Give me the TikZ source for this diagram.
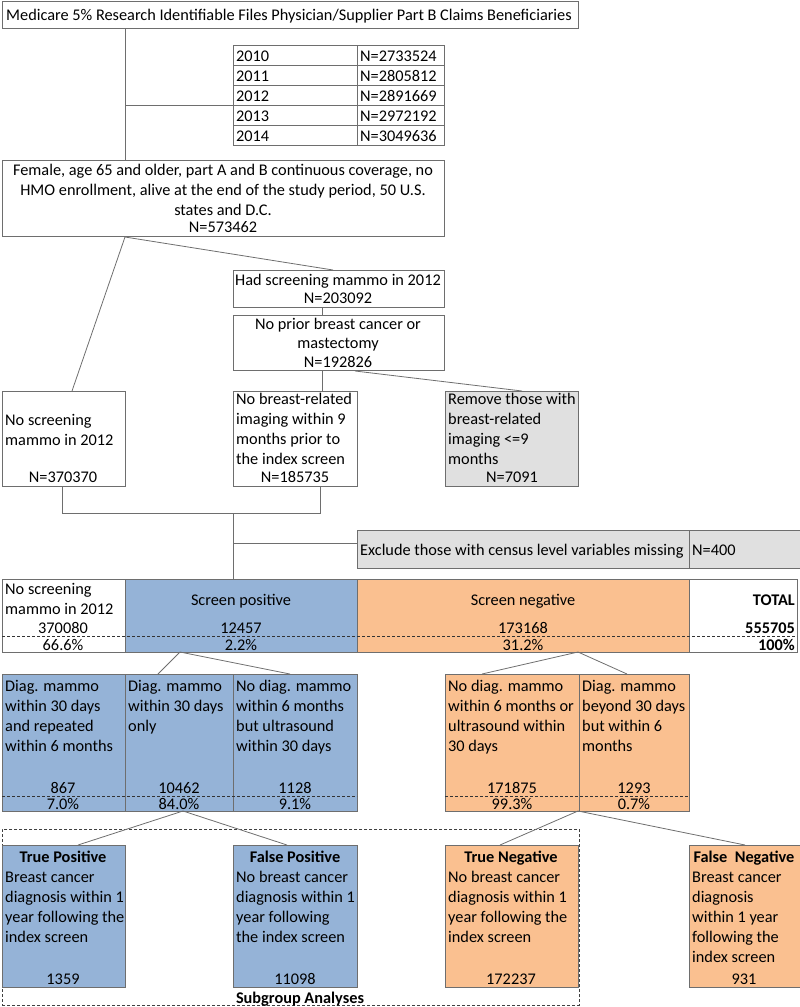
\documentclass[tikz,border=0pt]{standalone}
\usepackage{fontspec}
\setmainfont{Carlito}
\definecolor{bl}{HTML}{95B3D7}
\definecolor{og}{HTML}{FAC090}
\definecolor{gr}{HTML}{E0E0E0}
\definecolor{ln}{HTML}{6E6E6E}
\newcommand{\fs}{\fontsize{16.3}{20}\selectfont}
\newcommand{\cellbox}[6]{\node[cell,#6,minimum width={#4-#2}, minimum height={#5-#3}] (#1) at (#2,#3) {};}
\begin{document}
\begin{tikzpicture}[x=1pt,y=-1pt,
  cell/.style={draw=ln, line width=0.8pt, inner sep=0, outer sep=0, anchor=north west},
  conn/.style={draw=ln, line width=0.8pt},
  dl/.style={draw=black!80, line width=0.8pt, dash pattern=on 3pt off 2pt},
  txt/.style={inner sep=0, font=\fs, align=left, anchor=north west},
  ctx/.style={inner sep=0, font=\fs, align=center, anchor=north},
  one/.style={inner sep=0, font=\fs, anchor=base},
  onew/.style={inner sep=0, font=\fs, anchor=base west},
  onee/.style={inner sep=0, font=\fs\bfseries, anchor=base east},
  blue/.style={fill=bl},
  orng/.style={fill=og},
  gray/.style={fill=gr},
]
\useasboundingbox (0,0) rectangle (800,1007);

% top box
\cellbox{top}{2}{1}{578}{28}{}
\node[one] (toptxt) at (289,20) {Medicare 5\% Research Identifiable Files Physician/Supplier Part B Claims Beneficiaries};

% year table
\cellbox{y10}{233}{45}{357}{65}{}  \cellbox{n10}{357}{45}{444}{65}{}
\cellbox{y11}{233}{65}{357}{85}{}  \cellbox{n11}{357}{65}{444}{85}{}
\cellbox{y12}{233}{85}{357}{105}{} \cellbox{n12}{357}{85}{444}{105}{}
\cellbox{y13}{233}{105}{357}{125}{} \cellbox{n13}{357}{105}{444}{125}{}
\cellbox{y14}{233}{125}{357}{145}{} \cellbox{n14}{357}{125}{444}{145}{}
\node[onew] (ty10) at (236,61) {2010}; \node[onew] (tn10) at (360,61) {N=2733524};
\node[onew] (ty11) at (236,81) {2011}; \node[onew] (tn11) at (360,81) {N=2805812};
\node[onew] (ty12) at (236,101) {2012}; \node[onew] (tn12) at (360,101) {N=2891669};
\node[onew] (ty13) at (236,121) {2013}; \node[onew] (tn13) at (360,121) {N=2972192};
\node[onew] (ty14) at (236,141) {2014}; \node[onew] (tn14) at (360,141) {N=3049636};

% female box
\cellbox{fem}{2}{160}{444}{236}{}
\node[ctx] (femtxt) at (223,161) {\strut Female, age 65 and older, part A and B continuous coverage, no\\HMO enrollment, alive at the end of the study period, 50 U.S.\\states and D.C.\\[-3pt]N=573462};

\coordinate (j1) at (125,28);
\coordinate (j2) at (125,105);
\draw[conn] (top.south -| j1) -- (fem.north -| j1);
\draw[conn] (j2) -- (y13.north west);

% had / prior
\cellbox{had}{233}{270}{444}{307}{}
\node[ctx] (hadtxt) at (338,271) {\strut Had screening mammo in 2012\\[-2pt]N=203092};
\cellbox{pri}{233}{315}{444}{370}{}
\node[ctx] (pritxt) at (338,315) {\strut No prior breast cancer or\\[-1pt]mastectomy\\[-1pt]N=192826};

% middle boxes
\cellbox{nos}{2}{391}{125}{486}{}
\node[txt] (nostxt) at (5,411) {\strut No screening\\mammo in 2012};
\node[one] (nosn) at (63,482) {N=370370};
\cellbox{nbr}{233}{391}{357}{486}{}
\node[txt] (nbrtxt) at (236,390) {\strut No breast-related\\imaging within 9\\months prior to\\the index screen};
\node[one] (nbrn) at (295,482) {N=185735};
\cellbox{rem}{445}{391}{578}{486}{gray}
\node[txt] (remtxt) at (448,390) {\strut Remove those with\\breast-related\\imaging <=9\\months};
\node[one] (remn) at (512,482) {N=7091};

\coordinate (fj) at (125,237);
\coordinate (nosT) at (72,391);
\coordinate (hadT) at (333,270);
\coordinate (vj) at (322,0);
\coordinate (priB) at (355,371);
\coordinate (remT) at (522,391);
\draw[conn] (fj) -- (nosT);
\draw[conn] (fj) -- (hadT);
\draw[conn] (had.south -| vj) -- (pri.north -| vj);
\draw[conn] (pri.south -| vj) -- (nbr.north -| vj);
\draw[conn] (priB) -- (remT);

% merge
\coordinate (m1) at (62,513);
\coordinate (m2) at (320,513);
\coordinate (m3) at (233,513);
\coordinate (m4) at (233,543);
\draw[conn] (nos.south -| m1) -- (m1) -- (m2) -- (nbr.south -| m2);

% exclude
\cellbox{exc}{357}{530}{689}{568}{gray}
\cellbox{excn}{689}{530}{800}{568}{gray}
\node[onew] (exctxt) at (360,555) {Exclude those with census level variables missing};
\node[onew] (excntxt) at (692,555) {N=400};
\draw[conn] (m4) -- (exc.west |- m4);

% summary row
\cellbox{r0}{2}{579}{125}{652}{}
\cellbox{r1}{125}{579}{357}{652}{blue}
\cellbox{r2}{357}{579}{689}{652}{orng}
\cellbox{r3}{689}{579}{797}{652}{}
\draw[conn] (m3) -- (r1.north -| m3);
\coordinate (d1) at (2,636);
\coordinate (d2) at (797,636);
\draw[dl] (d1) -- (d2);
\node[txt] (r0txt) at (5,580) {\strut No screening\\mammo in 2012};
\node[one] (r0n) at (63,633) {370080};
\node[one] (r0p) at (63,650) {66.6\%};
\node[one] (r1t) at (241,605) {Screen positive};
\node[one] (r1n) at (241,633) {12457};
\node[one] (r1p) at (241,650) {2.2\%};
\node[one] (r2t) at (523,605) {Screen negative};
\node[one] (r2n) at (523,633) {173168};
\node[one] (r2p) at (523,650) {31.2\%};
\node[onee] (r3t) at (795,605) {TOTAL};
\node[onee] (r3n) at (795,633) {555705};
\node[onee] (r3p) at (795,650) {100\%};

% blue sub-table
\cellbox{b1}{2}{674}{125}{811}{blue}
\cellbox{b2}{125}{674}{233}{811}{blue}
\cellbox{b3}{233}{674}{357}{811}{blue}
\coordinate (bd1) at (2,796);
\coordinate (bd2) at (357,796);
\draw[dl] (bd1) -- (bd2);
\node[txt] (b1t) at (5,677) {\strut Diag. mammo\\within 30 days\\and repeated\\within 6 months};
\node[txt] (b2t) at (128,677) {\strut Diag. mammo\\within 30 days\\only};
\node[txt] (b3t) at (236,677) {\strut No diag. mammo\\within 6 months\\but ultrasound\\within 30 days};
\node[one] (b1n) at (63,793) {867};
\node[one] (b2n) at (179,793) {10462};
\node[one] (b3n) at (295,793) {1128};
\node[one] (b1p) at (63,809) {7.0\%};
\node[one] (b2p) at (179,809) {84.0\%};
\node[one] (b3p) at (295,809) {9.1\%};

% orange sub-table
\cellbox{o1}{445}{674}{579}{811}{orng}
\cellbox{o2}{579}{674}{689}{811}{orng}
\coordinate (od1) at (445,796);
\coordinate (od2) at (689,796);
\draw[dl] (od1) -- (od2);
\node[txt] (o1t) at (448,677) {\strut No diag. mammo\\within 6 months or\\ultrasound within\\30 days};
\node[txt] (o2t) at (582,677) {\strut Diag. mammo\\beyond 30 days\\but within 6\\months};
\node[one] (o1n) at (512,793) {171875};
\node[one] (o2n) at (634,793) {1293};
\node[one] (o1p) at (512,809) {99.3\%};
\node[one] (o2p) at (634,809) {0.7\%};

% connectors row -> sub tables
\coordinate (s1) at (180,652);
\coordinate (s1a) at (158,674);
\coordinate (s1b) at (290,674);
\coordinate (s2) at (578,652);
\coordinate (s2a) at (482,674);
\coordinate (s2b) at (627,674);
\draw[conn] (s1) -- (s1a);
\draw[conn] (s1) -- (s1b);
\draw[conn] (s2) -- (s2a);
\draw[conn] (s2) -- (s2b);

% subgroup frame
\node[draw=black!75, line width=0.8pt, dash pattern=on 3pt off 2pt, inner sep=0, anchor=north west, minimum width=577, minimum height=176] (sub) at (2,829) {};
\node[inner sep=0, font=\fs\bfseries, anchor=base] (subtxt) at (300,1003) {Subgroup Analyses};

% bottom boxes
\cellbox{tp}{2}{845}{125}{987}{blue}
\cellbox{fp}{233}{845}{357}{987}{blue}
\cellbox{tn}{445}{845}{578}{987}{orng}
\cellbox{fn}{689}{845}{800}{987}{orng}
\node[inner sep=0, font=\fs\bfseries, anchor=base] (tph) at (63,862) {True Positive};
\node[txt] (tpt) at (5,868) {\strut Breast cancer\\diagnosis within 1\\year following the\\index screen};
\node[one] (tpn) at (63,984) {1359};
\node[inner sep=0, font=\fs\bfseries, anchor=base] (fph) at (295,862) {False Positive};
\node[txt] (fpt) at (236,868) {\strut No breast cancer\\diagnosis within 1\\year following\\the index screen};
\node[one] (fpn) at (295,984) {11098};
\node[inner sep=0, font=\fs\bfseries, anchor=base] (tnh) at (511,862) {True Negative};
\node[txt] (tnt) at (448,868) {\strut No breast cancer\\diagnosis within 1\\year following the\\index screen};
\node[one] (tnn) at (511,984) {172237};
\node[inner sep=0, font=\fs\bfseries, anchor=base] (fnh) at (744,862) {False\ \ Negative};
\node[txt] (fnt) at (692,868) {\strut Breast cancer\\diagnosis\\within 1 year\\following the\\index screen};
\node[one] (fnn) at (744,984) {931};

\coordinate (t1) at (183,811);
\coordinate (t1a) at (78,845);
\coordinate (t1b) at (287,845);
\coordinate (t2) at (578,811);
\coordinate (t2a) at (500,845);
\coordinate (t2b) at (745,845);
\draw[conn] (t1) -- (t1a);
\draw[conn] (t1) -- (t1b);
\draw[conn] (t2) -- (t2a);
\draw[conn] (t2) -- (t2b);
\end{tikzpicture}
\end{document}
